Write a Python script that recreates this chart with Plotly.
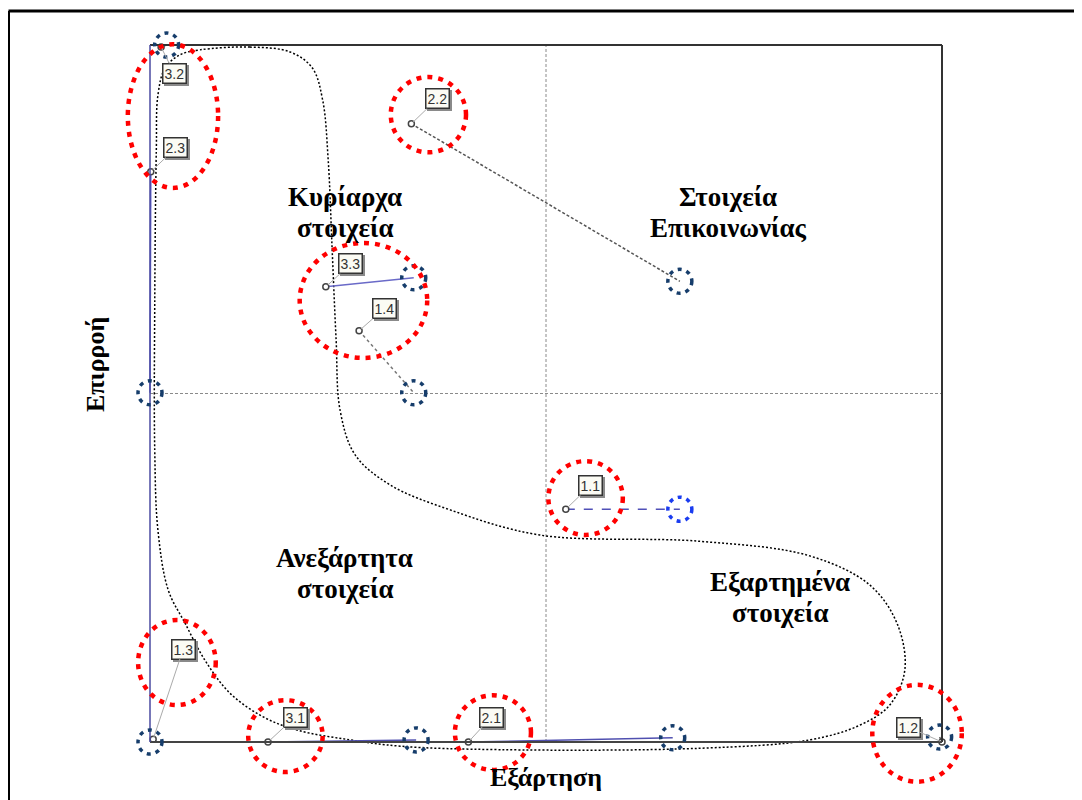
import plotly.graph_objects as go

# old position -> new position of each element (0-100 scale on both axes)
labels = ["3.2", "2.3", "2.2", "3.3", "1.4", "1.1", "1.3", "3.1", "2.1", "1.2"]
old_x = [1.4, 0.1, 33.0, 22.2, 26.4, 52.5, 0.4, 14.9, 40.2, 100.0]
old_y = [99.7, 81.8, 88.7, 65.3, 59.0, 33.4, 0.4, 0.0, 0.0, 0.0]
new_x = [2.1, 0.0, 66.9, 33.3, 33.3, 66.9, 0.0, 33.6, 66.0, 99.7]
new_y = [100.0, 50.1, 66.1, 66.6, 50.1, 33.4, 0.0, 0.3, 0.6, 0.7]

# label offset from the old point (pixels)
label_dx = [13, 25, 26, 25, 25, 25, 30, 27, 23, -34]
label_dy = [26, -24, -25, -23, -22, -24, -90, -25, -25, -15]

# red highlight ellipses: x0, x1, y0, y1
red_x0 = [-2.8, 30.4, 18.9, 50.3, -1.5, 12.4, 38.5, 91.2]
red_x1 = [8.6, 39.9, 35.0, 59.7, 8.3, 21.8, 48.1, 102.5]
red_y0 = [79.5, 84.6, 55.1, 29.7, 5.3, -4.3, -4.0, -5.7]
red_y1 = [100.1, 95.4, 71.6, 40.3, 17.5, 6.0, 6.7, 8.2]

# dotted envelope curve
curve_x = [6.3, 12.6, 17.7, 20.5, 21.8, 22.5, 23.0, 23.5, 24.0, 25.9, 30.3, 37.9, 49.2,
           69.4, 83.3, 90.9, 94.4, 95.3, 93.4, 89.6, 83.3, 69.4, 44.2, 31.6, 25.3, 18.6,
           14.3, 10.1, 6.9, 4.4, 2.3, 1.0, 0.6, 0.6, 0.8, 1.0, 1.9, 3.8, 6.3]
curve_y = [99.3, 99.7, 99.0, 96.7, 92.1, 83.5, 70.6, 57.7, 47.6, 41.2, 36.9, 33.3, 29.7,
           28.8, 26.7, 22.5, 16.8, 10.3, 5.3, 2.4, 0.3, -0.9, -1.1, -0.6, 0.3, 1.7,
           3.6, 7.0, 11.8, 17.1, 21.8, 30.4, 41.8, 63.1, 85.1, 92.8, 96.7, 98.6, 99.3]

quad_line1 = ["Κυρίαρχα", "Στοιχεία", "Ανεξάρτητα", "Εξαρτημένα"]
quad_line2 = ["στοιχεία", "Επικοινωνίας", "στοιχεία", "στοιχεία"]
quad_x = [24.6, 73.0, 24.6, 79.5]
quad_y = [76.0, 76.0, 24.2, 20.7]

OFF = 8  # page body margin around the plot div
W, H = 1082 - OFF, 800 - OFF
# pixel scale: frame spans 150..942 px horizontally, 742..45 px vertically (screen)
sx = 7.92
sy = 6.97
x0_ = -(150 - OFF) / sx
y1_ = 100 + (45 - OFF) / sy
x_range = [x0_, x0_ + W / sx]
y_range = [y1_ - H / sy, y1_]

move_style = {
    "3.2": ("#6a6ab8", "solid"), "2.3": ("#5a5ac8", "solid"), "2.2": ("#555555", "3px,2px"),
    "3.3": ("#6a6ac8", "solid"), "1.4": ("#777777", "dot"), "1.1": ("#5050b8", "dash"),
    "1.3": ("#aaaaaa", "dot"), "3.1": ("#5050b0", "solid"), "2.1": ("#5050b0", "solid"),
    "1.2": ("#555555", "solid"),
}

fig = go.Figure()

# envelope
fig.add_trace(go.Scatter(x=curve_x, y=curve_y, mode="lines", line_shape="spline",
                         line=dict(color="black", width=1.5, dash="2px,2px"),
                         hoverinfo="skip", showlegend=False))

shapes = []
# outer border: only top and left edges are on the page
bx = x_range[0] + 0.5 / sx
by = y_range[1] - 3 / sy
shapes.append(dict(type="line", xref="x", yref="y", x0=bx, x1=x_range[1], y0=by, y1=by,
                   line=dict(color="black", width=3), layer="below"))
shapes.append(dict(type="line", xref="x", yref="y", x0=bx, x1=bx, y0=y_range[0], y1=by,
                   line=dict(color="black", width=3), layer="below"))
# quadrant dividers
shapes.append(dict(type="line", xref="x", yref="y", x0=50, x1=50, y0=0, y1=100,
                   line=dict(color="#8a8a8a", width=1, dash="3px,2px"), layer="below"))
shapes.append(dict(type="line", xref="x", yref="y", x0=0, x1=100, y0=50, y1=50,
                   line=dict(color="#8a8a8a", width=1, dash="3px,2px"), layer="below"))
# frame
shapes.append(dict(type="line", xref="x", yref="y", x0=0, x1=100, y0=100, y1=100,
                   line=dict(color="#333333", width=2)))
shapes.append(dict(type="line", xref="x", yref="y", x0=100, x1=100, y0=0, y1=100,
                   line=dict(color="#333333", width=2)))
shapes.append(dict(type="line", xref="x", yref="y", x0=0, x1=100, y0=0, y1=0,
                   line=dict(color="#444444", width=2)))
shapes.append(dict(type="line", xref="x", yref="y", x0=0, x1=0, y0=0, y1=100,
                   line=dict(color="#4a4aa0", width=1.5)))

# movement lines
for i, lab in enumerate(labels):
    col, dash = move_style[lab]
    fig.add_trace(go.Scatter(x=[old_x[i], new_x[i]], y=[old_y[i], new_y[i]], mode="lines",
                             line=dict(color=col, width=1.5, dash=dash),
                             hoverinfo="skip", showlegend=False))

# old positions
fig.add_trace(go.Scatter(x=old_x, y=old_y, mode="markers",
                         marker=dict(size=6, color="white", line=dict(color="#444444", width=1.5)),
                         hoverinfo="skip", showlegend=False))

# blue dotted circles on new positions
r_px = 12
for i, lab in enumerate(labels):
    col = "#1a3cf0" if lab == "1.1" else "#163d6b"
    shapes.append(dict(type="circle", xref="x", yref="y",
                       x0=new_x[i] - r_px / sx, x1=new_x[i] + r_px / sx,
                       y0=new_y[i] - r_px / sy, y1=new_y[i] + r_px / sy,
                       line=dict(color=col, width=3.5, dash="4px,5px")))

# red dotted ellipses
for i in range(len(red_x0)):
    shapes.append(dict(type="circle", xref="x", yref="y",
                       x0=red_x0[i], x1=red_x1[i], y0=red_y0[i], y1=red_y1[i],
                       line=dict(color="#ff0000", width=4.5, dash="5px,6px")))

annotations = []
for i, lab in enumerate(labels):
    # shadow
    annotations.append(dict(x=old_x[i], y=old_y[i], xref="x", yref="y", showarrow=False,
                            xshift=label_dx[i] + 2, yshift=-label_dy[i] - 2,
                            text=lab, font=dict(family="Arial", size=14, color="#8a8a8a"),
                            bgcolor="#8a8a8a", bordercolor="#8a8a8a", borderwidth=1.5, borderpad=1))
    annotations.append(dict(x=old_x[i], y=old_y[i], xref="x", yref="y", showarrow=True,
                            ax=label_dx[i], ay=label_dy[i], arrowhead=0, arrowwidth=1,
                            arrowcolor="#aaaaaa", standoff=2,
                            text=lab, font=dict(family="Arial", size=14, color="#333333"),
                            bgcolor="#fbfbf4", bordercolor="#333333", borderwidth=1.5, borderpad=1))

for t1, t2, x, y in zip(quad_line1, quad_line2, quad_x, quad_y):
    for t, shift in ((t1, 15.5), (t2, -15.5)):
        annotations.append(dict(x=x, y=y, xref="x", yref="y", showarrow=False, yshift=shift,
                                text="<b>" + t + "</b>",
                                font=dict(family="Liberation Serif", size=27, color="black")))

# axis titles
annotations.append(dict(x=50, y=-35 / sy, xref="x", yref="y", showarrow=False,
                        text="<b>Εξάρτηση</b>",
                        font=dict(family="Liberation Serif", size=26, color="black")))
annotations.append(dict(x=-55 / sx, y=(742 - 365) / sy, xref="x", yref="y", showarrow=False,
                        text="<b>Επιρροή</b>", textangle=-90,
                        font=dict(family="Liberation Serif", size=26, color="black")))

fig.update_layout(
    width=W, height=H,
    margin=dict(l=0, r=0, t=0, b=0),
    paper_bgcolor="white", plot_bgcolor="white",
    xaxis=dict(range=x_range, visible=False, fixedrange=True),
    yaxis=dict(range=y_range, visible=False, fixedrange=True),
    shapes=shapes, annotations=annotations, showlegend=False,
)

fig.write_html("out.html")
